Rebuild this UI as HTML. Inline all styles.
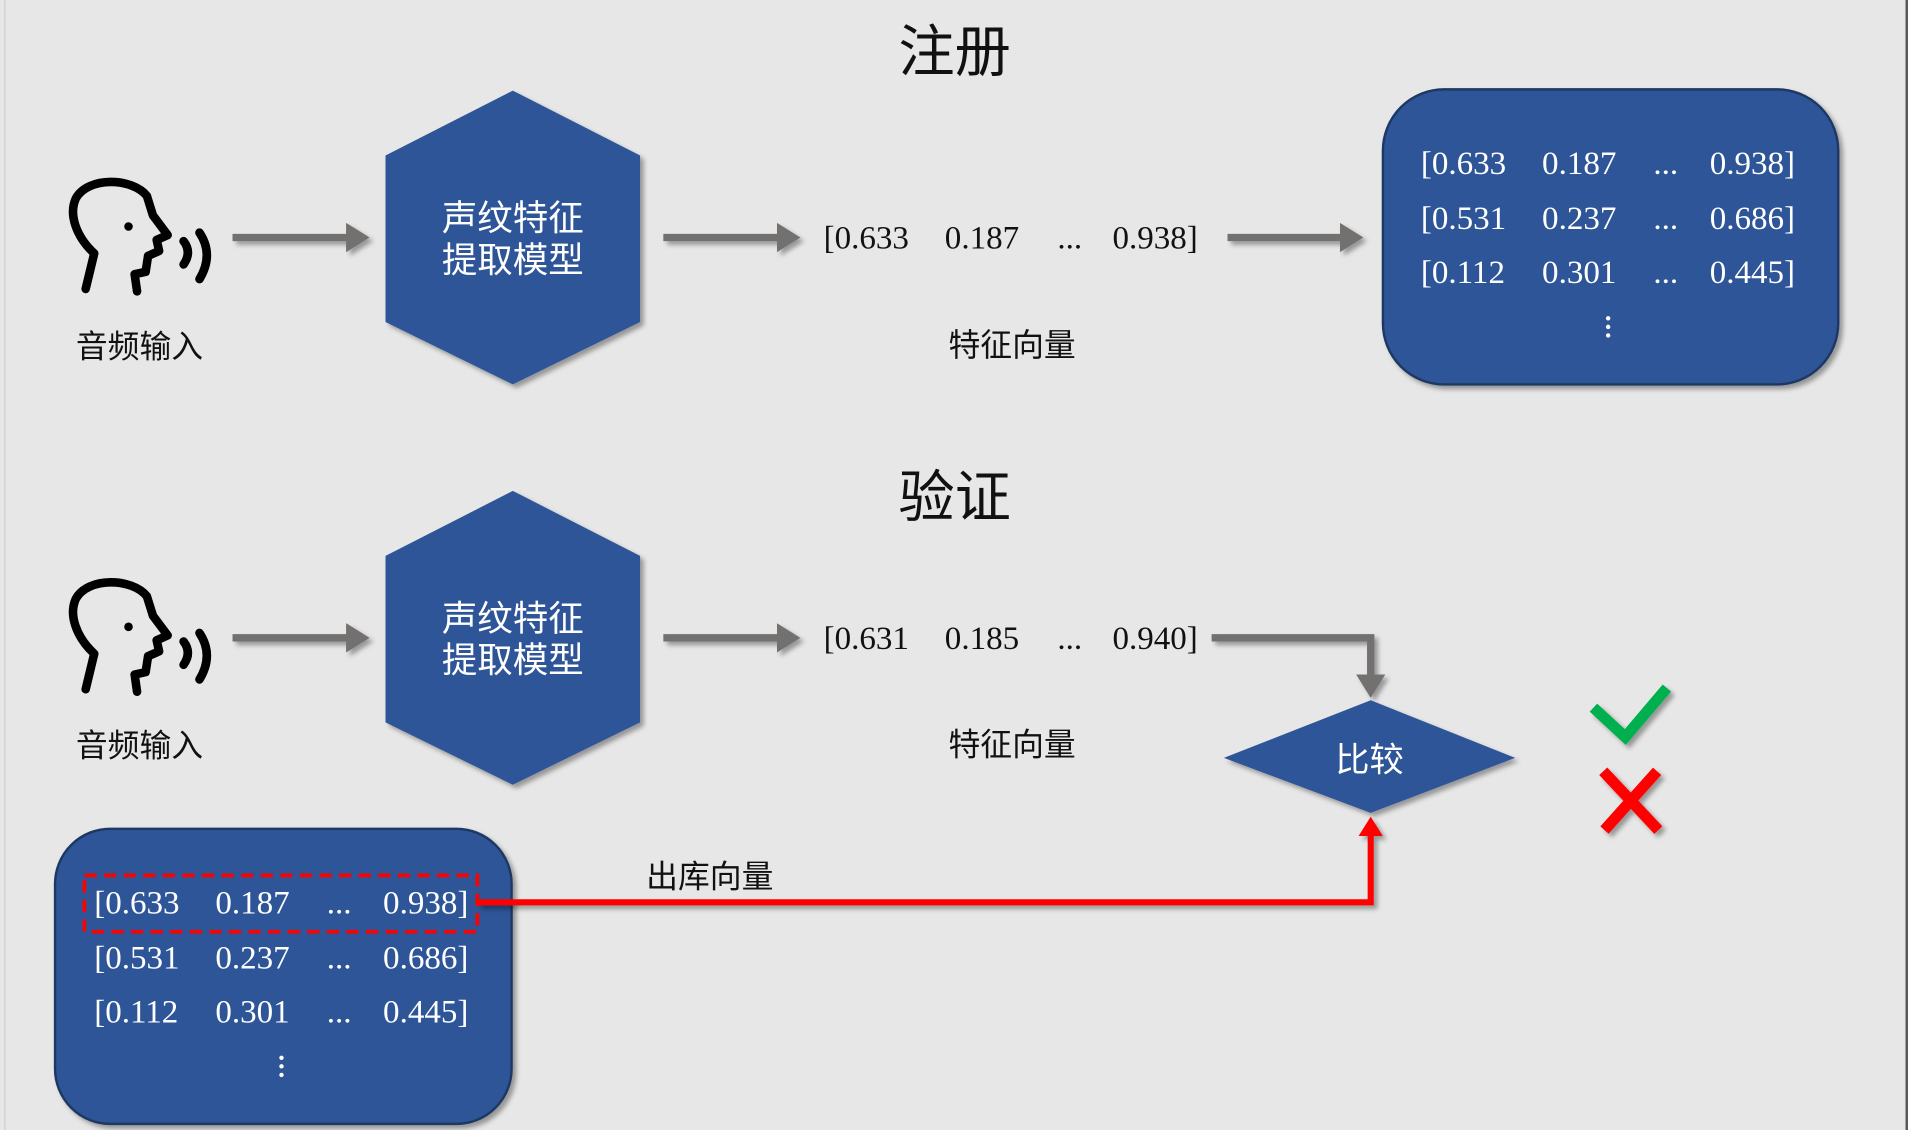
<!DOCTYPE html>
<html><head><meta charset="utf-8"><style>
html,body{margin:0;padding:0;background:#e7e7e7;}
svg{display:block;}
text{font-family:"Liberation Sans","Noto Sans CJK SC",sans-serif;}
.num text{font-family:"Liberation Serif","Noto Serif CJK SC",serif;font-size:27px;}
.cn{font-size:26px;fill:#111;}
</style></head><body>
<svg width="1919" height="1130" viewBox="0 0 1568 923" preserveAspectRatio="none" xmlns="http://www.w3.org/2000/svg">
<defs>
<filter id="sh" filterUnits="userSpaceOnUse" x="0" y="0" width="1568" height="923"><feDropShadow dx="3" dy="3" stdDeviation="2" flood-color="#000" flood-opacity="0.35"/></filter>
<marker id="ag" markerWidth="4" markerHeight="4" refX="2.2" refY="2" orient="auto" markerUnits="strokeWidth"><path d="M0,0 L3.2,2 L0,4 z" fill="#737070"/></marker>
<marker id="ar" markerWidth="4" markerHeight="4" refX="2.2" refY="2" orient="auto" markerUnits="strokeWidth"><path d="M0,0 L3.2,2 L0,4 z" fill="#ff0000"/></marker>
<g id="head" fill="none" stroke="#000" stroke-width="7" stroke-linecap="round" stroke-linejoin="round">
<path d="M70,236 L77,207 C62,193 56,175 62,162 C72,144 108,145 120,160 L125,176 L137,192 L128,196 L130,205 L121,209 L119,222 L110,224 L112,238"/>
<path d="M150,197 Q157,206 150,216"/>
<path d="M163,190 Q175,208 163,228"/>
<circle cx="105" cy="185" r="3.5" fill="#000" stroke="none"/>
</g>
</defs>
<rect x="0" y="0" width="1568" height="923" fill="#e7e7e7"/>
<line x1="1558" y1="0" x2="1558" y2="923" stroke="#555" stroke-width="2"/>
<rect x="1559" y="0" width="9" height="923" fill="#fff"/>
<line x1="4" y1="0" x2="4" y2="923" stroke="#ccc" stroke-width="1"/>

<text x="780" y="58" text-anchor="middle" font-size="46" fill="#111">注册</text>
<text x="780" y="422" text-anchor="middle" font-size="46" fill="#111">验证</text>

<use href="#head"/>
<text class="cn" x="62" y="292">音频输入</text>
<line x1="190" y1="194" x2="296" y2="194" stroke="#737070" stroke-width="6" marker-end="url(#ag)" filter="url(#sh)"/>
<polygon points="419,74 523,127 523,263 419,314 315,263 315,127" fill="#2f5597" filter="url(#sh)"/>
<text x="419" y="188" text-anchor="middle" font-size="29" fill="#fff">声纹特征</text>
<text x="419" y="222" text-anchor="middle" font-size="29" fill="#fff">提取模型</text>
<line x1="542" y1="194" x2="648" y2="194" stroke="#737070" stroke-width="6" marker-end="url(#ag)" filter="url(#sh)"/>
<g class="num" fill="#111"><text x="673" y="203">[0.633</text><text x="772" y="203">0.187</text><text x="864" y="203">...</text><text x="909" y="203">0.938]</text></g>
<text class="cn" x="775" y="291">特征向量</text>
<line x1="1003" y1="194" x2="1108" y2="194" stroke="#737070" stroke-width="6" marker-end="url(#ag)" filter="url(#sh)"/>
<rect x="1130" y="73" width="372" height="241" rx="50" fill="#2f5597" stroke="#1f3864" stroke-width="2" filter="url(#sh)"/>
<g class="num" fill="#fff">
<text x="1161" y="142">[0.633</text><text x="1260" y="142">0.187</text><text x="1351" y="142">...</text><text x="1397" y="142">0.938]</text>
<text x="1161" y="187">[0.531</text><text x="1260" y="187">0.237</text><text x="1351" y="187">...</text><text x="1397" y="187">0.686]</text>
<text x="1161" y="231">[0.112</text><text x="1260" y="231">0.301</text><text x="1351" y="231">...</text><text x="1397" y="231">0.445]</text>
</g>
<g fill="#fff"><circle cx="1314" cy="260" r="1.8"/><circle cx="1314" cy="267" r="1.8"/><circle cx="1314" cy="274" r="1.8"/></g>

<use href="#head" transform="translate(0,327)"/>
<text class="cn" x="62" y="618">音频输入</text>
<line x1="190" y1="521" x2="296" y2="521" stroke="#737070" stroke-width="6" marker-end="url(#ag)" filter="url(#sh)"/>
<polygon points="419,401 523,454 523,590 419,641 315,590 315,454" fill="#2f5597" filter="url(#sh)"/>
<text x="419" y="515" text-anchor="middle" font-size="29" fill="#fff">声纹特征</text>
<text x="419" y="549" text-anchor="middle" font-size="29" fill="#fff">提取模型</text>
<line x1="542" y1="521" x2="648" y2="521" stroke="#737070" stroke-width="6" marker-end="url(#ag)" filter="url(#sh)"/>
<g class="num" fill="#111"><text x="673" y="530">[0.631</text><text x="772" y="530">0.185</text><text x="864" y="530">...</text><text x="909" y="530">0.940]</text></g>
<text class="cn" x="775" y="617">特征向量</text>
<polyline points="990,521 1120,521 1120,564" fill="none" stroke="#737070" stroke-width="6" marker-end="url(#ag)" filter="url(#sh)"/>
<polygon points="1120,572 1238,619 1120,664 1000,619" fill="#2f5597" filter="url(#sh)"/>
<text x="1119" y="630" text-anchor="middle" font-size="28" fill="#fff">比较</text>
<polyline points="1302,578 1328,602 1362,562" fill="none" stroke="#00b050" stroke-width="9" filter="url(#sh)"/>
<g stroke="#ff0000" stroke-width="9" filter="url(#sh)"><line x1="1310" y1="630" x2="1355" y2="678"/><line x1="1354" y1="630" x2="1311" y2="678"/></g>

<rect x="45" y="677" width="373" height="241" rx="45" fill="#2f5597" stroke="#1f3864" stroke-width="2" filter="url(#sh)"/>
<g class="num" fill="#fff">
<text x="77" y="746">[0.633</text><text x="176" y="746">0.187</text><text x="267" y="746">...</text><text x="313" y="746">0.938]</text>
<text x="77" y="791">[0.531</text><text x="176" y="791">0.237</text><text x="267" y="791">...</text><text x="313" y="791">0.686]</text>
<text x="77" y="835">[0.112</text><text x="176" y="835">0.301</text><text x="267" y="835">...</text><text x="313" y="835">0.445]</text>
</g>
<g fill="#fff"><circle cx="230" cy="864" r="1.8"/><circle cx="230" cy="871" r="1.8"/><circle cx="230" cy="878" r="1.8"/></g>
<rect x="69" y="715" width="321" height="46" fill="none" stroke="#ff0000" stroke-width="3" stroke-dasharray="10,6"/>
<polyline points="390,737 1120,737 1120,672" fill="none" stroke="#ff0000" stroke-width="5" marker-end="url(#ar)" filter="url(#sh)"/>
<text class="cn" x="528" y="725">出库向量</text>
</svg>
</body></html>
